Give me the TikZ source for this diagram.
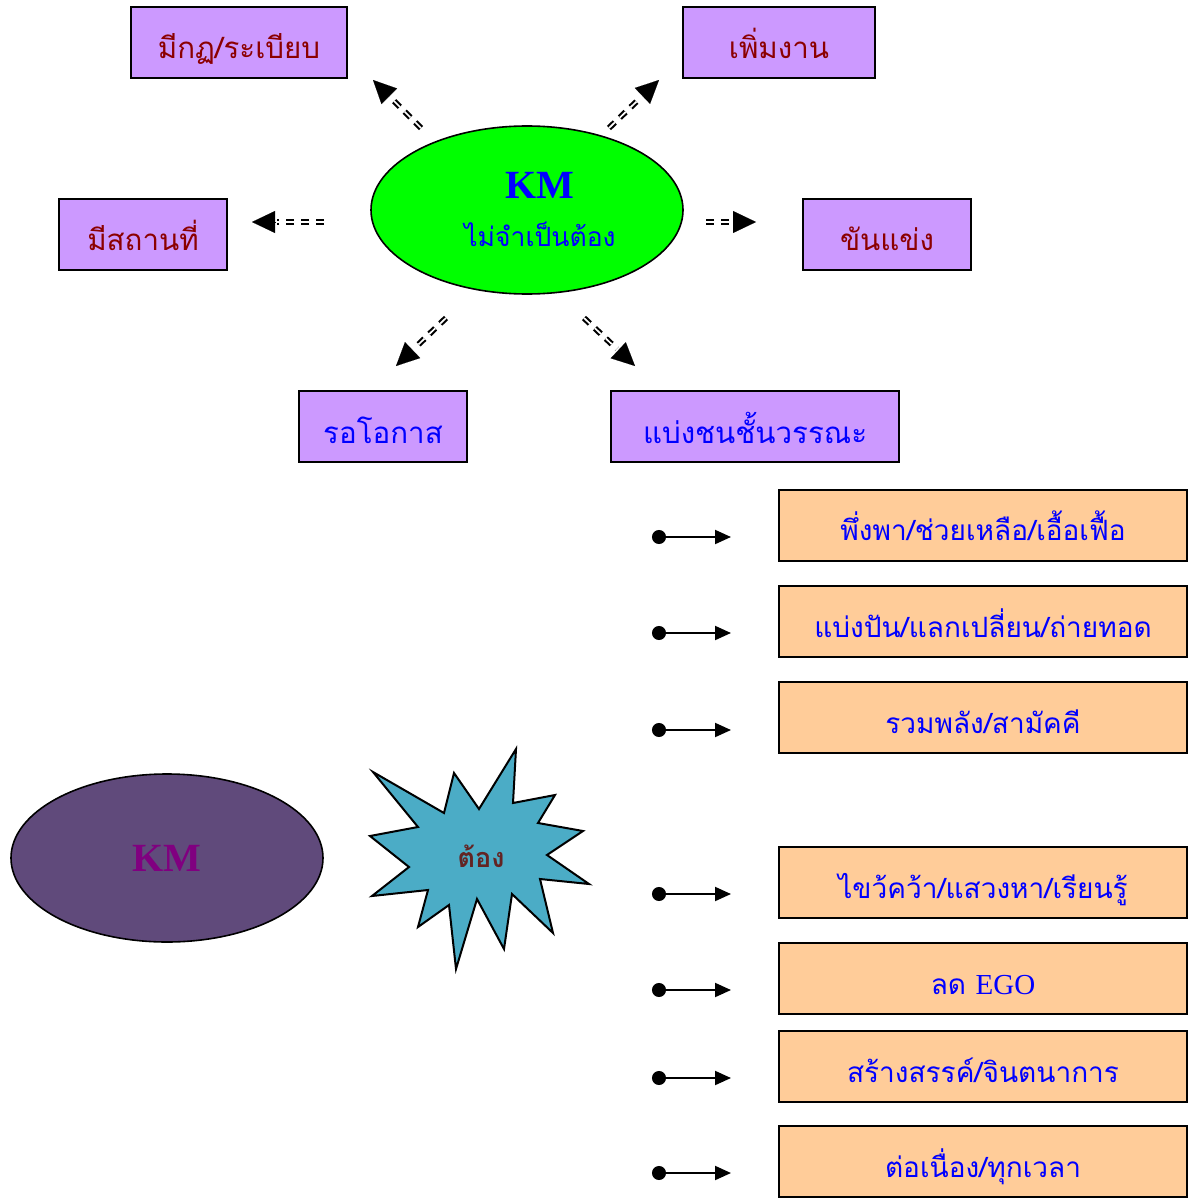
\documentclass[tikz,border=0pt]{standalone}
\usepackage{fontspec}
\setmainfont{Liberation Serif}
\newfontfamily\thai[Script=Thai]{Loma}
\usetikzlibrary{shapes.geometric,arrows.meta,calc}
\definecolor{lav}{HTML}{CC99FF}
\definecolor{peach}{HTML}{FFCC99}
\definecolor{dred}{HTML}{8B0000}
\definecolor{kmgreen}{HTML}{00FF00}
\definecolor{kmblue}{HTML}{0000FF}
\definecolor{plum}{HTML}{604A7B}
\definecolor{kmpurple}{HTML}{800080}
\definecolor{starblue}{HTML}{4BACC6}
\definecolor{brownred}{HTML}{632423}
\newcommand\thaibox{\thai\fontsize{28pt}{32pt}\selectfont}
\newcommand\thailav{\thai\fontsize{29.5pt}{33pt}\selectfont}
\newcommand\dblarr[2]{%
  \draw[shaft,shorten >=25pt] (#1) -- (#2);
  \draw[headtip] ($(#2)!23pt!(#1)$) -- (#2);}
\begin{document}
\begin{tikzpicture}[x=1pt,y=-1pt,
  lavbox/.style={draw,line width=2pt,fill=lav,minimum height=71pt,inner sep=0pt,font=\thailav,text height=33pt,text depth=0pt},
  peachbox/.style={draw,line width=2pt,fill=peach,minimum height=71pt,minimum width=408pt,inner sep=0pt,font=\thaibox,text=kmblue,text height=31pt,text depth=0pt},
  shaft/.style={line width=2.1pt,double=white,double distance=1.7pt,dash pattern=on 8pt off 7pt},
  headtip/.style={line width=0.1pt,-{Triangle[length=23pt,width=22pt]}},
  dotarrow/.style={line width=2pt,{Circle[length=14pt,width=14pt]}-{Triangle[length=16pt,width=14pt]}},
  bigoval/.style={ellipse,draw,line width=1.6pt,minimum width=312pt,minimum height=168pt,inner sep=0pt}
]
\useasboundingbox (0,0) rectangle (1197,1198);

% ---------- top part ----------
\node[bigoval,fill=kmgreen] (km1) at (527,210) {};
\node[text=kmblue,font=\bfseries\fontsize{40pt}{44pt}\selectfont] (km1t) at (540,185) {KM};
\node[text=kmblue,font=\thai\fontsize{26.5pt}{30pt}\selectfont] (km1s) at (540,234) {ไม่จำเป็นต้อง};

\node[lavbox,minimum width=216pt,text=dred] (b1) at (239,42.5) {มีกฏ/ระเบียบ};
\node[lavbox,minimum width=192pt,text=dred] (b2) at (779,42.5) {เพิ่มงาน};
\node[lavbox,minimum width=168pt,text=dred] (b3) at (143,234.5) {มีสถานที่};
\node[lavbox,minimum width=168pt,text=dred] (b4) at (887,234.5) {ขันแข่ง};
\node[lavbox,minimum width=168pt,text=kmblue] (b5) at (383,426.5) {รอโอกาส};
\node[lavbox,minimum width=288pt,text=kmblue] (b6) at (755,426.5) {แบ่งชนชั้นวรรณะ};

\coordinate (ulT) at (421,128); \coordinate (ulH) at (373,80);
\coordinate (urT) at (609,128); \coordinate (urH) at (659,80);
\coordinate (lT) at (324,222);  \coordinate (lH) at (252,222);
\coordinate (rT) at (706,222);  \coordinate (rH) at (756,222);
\coordinate (llT) at (446,318); \coordinate (llH) at (396,366);
\coordinate (lrT) at (584,318); \coordinate (lrH) at (635,366);
\dblarr{ulT}{ulH}
\dblarr{urT}{urH}
\dblarr{lT}{lH}
\dblarr{rT}{rH}
\dblarr{llT}{llH}
\dblarr{lrT}{lrH}

% ---------- bottom part ----------
\node[bigoval,fill=plum] (km2) at (167,858) {};
\node[text=kmpurple,font=\bfseries\fontsize{40pt}{44pt}\selectfont] (km2t) at (167,858) {KM};

\draw[line width=2pt,fill=starblue,line join=miter]
  (516,749) -- (513,803) -- (555,795) -- (538,823) -- (583,831) -- (547,855)
  -- (589,884) -- (540,879) -- (553,933) -- (512,894) -- (504,949) -- (477,899)
  -- (456,969) -- (449,905) -- (418,927) -- (428,890) -- (372,896) -- (409,867)
  -- (370,836) -- (418,827) -- (373,772) -- (444,813) -- (454,773) -- (479,809) -- cycle;
\node[text=brownred,font=\thai\bfseries\fontsize{27pt}{30pt}\selectfont,anchor=base] (must) at (481,867) {ต้อง};

\node[peachbox] (p1) at (983,525) {พึ่งพา/ช่วยเหลือ/เอื้อเฟื้อ};
\node[peachbox] (p2) at (983,621.5) {แบ่งปัน/แลกเปลี่ยน/ถ่ายทอด};
\node[peachbox] (p3) at (983,717.5) {รวมพลัง/สามัคคี};
\node[peachbox] (p4) at (983,882.5) {ไขว้คว้า/แสวงหา/เรียนรู้};
\node[peachbox] (p5) at (983,978.5) {ลด {\rmfamily\fontsize{29pt}{32pt}\selectfont EGO}};
\node[peachbox] (p6) at (983,1066.5) {สร้างสรรค์/จินตนาการ};
\node[peachbox] (p7) at (983,1161.5) {ต่อเนื่อง/ทุกเวลา};

\foreach \i/\yy in {1/537,2/633,3/730,4/894,5/990,6/1078,7/1173}{
  \coordinate (s\i) at (652,\yy);
  \coordinate (e\i) at (731,\yy);
  \draw[dotarrow] (s\i) -- (e\i);
}
\end{tikzpicture}
\end{document}
